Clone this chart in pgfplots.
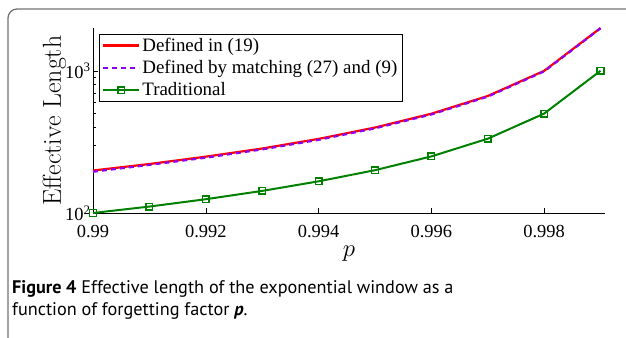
\documentclass[border=0pt]{standalone}
\usepackage{fontspec}
\setmainfont{Liberation Serif}
\newfontfamily\capfont{PT Sans}
\usepackage{pgfplots}
\pgfplotsset{compat=1.18}
\definecolor{mypurple}{rgb}{0.55,0,0.95}
\definecolor{mygreen}{rgb}{0,0.5,0}
\definecolor{framegray}{rgb}{0.45,0.45,0.45}
\begin{document}
\begin{tikzpicture}[x=1bp,y=1bp]
\useasboundingbox (0,0) rectangle (626,337);
\draw[framegray, line width=1.3bp, rounded corners=9bp] (8,-30) -- (8,328) -- (660,328);
\begin{axis}[
  at={(93bp,124bp)}, anchor=south west,
  scale only axis, width=512bp, height=185bp,
  xmin=0.99, xmax=0.99908, ymode=log, ymin=100, ymax=2000,
  axis x line*=bottom, axis y line*=left,
  axis line style={-, line width=0.6bp},
  xtick={0.99,0.992,0.994,0.996,0.998},
  xticklabels={0.99,0.992,0.994,0.996,0.998},
  ytick={100,1000},
  yticklabels={10\textsuperscript{2},10\textsuperscript{3}},
  tick align=inside,
  major tick length=5bp, minor tick length=3bp,
  tick style={line width=0.5bp, black},
  ticklabel style={font=\fontsize{18.5}{18.5}\selectfont},
  xticklabel style={yshift=-9bp},
  yticklabel style={xshift=1bp},
  xlabel={$p$},
  xlabel style={font=\fontsize{24}{24}\selectfont, yshift=-1bp},
  ylabel={\fontspec{Latin Modern Roman}Effective Length},
  ylabel style={font=\fontsize{26}{26}\selectfont, yshift=-8bp},
  legend style={at={(0.0117,0.9676)}, anchor=north west, draw=black,
    font=\fontsize{19}{22}\selectfont, inner xsep=3bp, inner ysep=2bp, row sep=3.5bp,
    /tikz/every even column/.append style={column sep=2bp}},
  legend cell align=left,
  legend image code/.code={\draw[mark repeat=2,mark phase=2,#1] plot coordinates {(0bp,0bp) (18bp,0bp) (36bp,0bp)};},
  clip=false,
]
\addplot[color=red, line width=2.2bp] coordinates {
(0.990,199) (0.991,221) (0.992,249) (0.993,284) (0.994,332)
(0.995,399) (0.996,499) (0.997,665) (0.998,999) (0.999,1999)};
\addlegendentry{Defined in (19)}
\addplot[color=mypurple, line width=2.2bp, dash pattern=on 5bp off 4bp] coordinates {
(0.990,195) (0.991,218) (0.992,245) (0.993,280) (0.994,327)
(0.995,394) (0.996,493) (0.997,658) (0.998,990) (0.999,1990)};
\addlegendentry{Defined by matching (27) and (9)}
\addplot[color=mygreen, line width=2bp, mark=square, mark size=3.3bp, mark options={solid, line width=1.5bp}] coordinates {
(0.990,100) (0.991,111) (0.992,125) (0.993,143) (0.994,167)
(0.995,200) (0.996,250) (0.997,333) (0.998,500) (0.999,1000)};
\addlegendentry{Traditional}
\end{axis}
\node[anchor=base west, inner sep=0pt, font=\capfont\fontsize{18.3}{18.3}\selectfont] at (12,44) {\textbf{Figure 4} Effective length of the exponential window as a};
\node[anchor=base west, inner sep=0pt, font=\capfont\fontsize{18.3}{18.3}\selectfont] at (12,22) {function of forgetting factor \textbf{\textit{p}}.};
\end{tikzpicture}
\end{document}
